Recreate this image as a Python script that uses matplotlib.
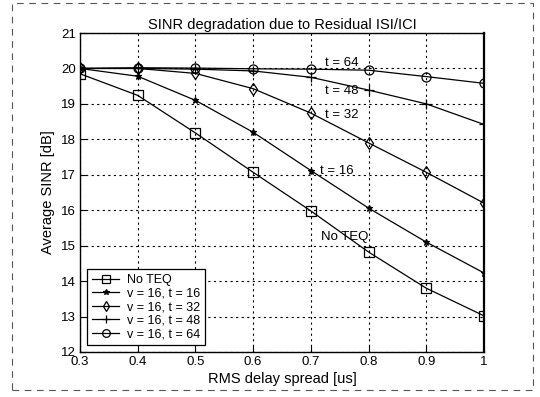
import matplotlib
matplotlib.use('Agg')
import matplotlib.pyplot as plt
from matplotlib.patches import Rectangle

plt.rcParams['font.family'] = ['Liberation Sans', 'DejaVu Sans']

delay = [0.3, 0.4, 0.5, 0.6, 0.7, 0.8, 0.9, 1.0]
no_teq = [19.85, 19.24, 18.18, 17.07, 15.98, 14.82, 13.8, 13.02]
t16 = [20.0, 19.78, 19.1, 18.2, 17.12, 16.06, 15.1, 14.23]
t32 = [20.0, 20.0, 19.86, 19.43, 18.74, 17.9, 17.07, 16.2]
t48 = [20.0, 20.0, 19.98, 19.93, 19.75, 19.39, 19.0, 18.42]
t64 = [20.0, 20.02, 20.01, 19.99, 19.98, 19.95, 19.77, 19.58]

series = [
    (no_teq, 's', 'No TEQ'),
    (t16, '*', 'v = 16, t = 16'),
    (t32, 'd', 'v = 16, t = 32'),
    (t48, '+', 'v = 16, t = 48'),
    (t64, 'o', 'v = 16, t = 64'),
]

labels = [(0.725, 20.15, 't = 64'), (0.725, 19.35, 't = 48'),
          (0.725, 18.7, 't = 32'), (0.715, 17.1, 't = 16'),
          (0.717, 15.24, 'No TEQ')]

fig = plt.figure(figsize=(5.4, 3.97), dpi=100)
ax = fig.add_axes([80/540, 1-352/397, 404/540, 319/397])

# dashed scan border round the figure
fig.patches.append(Rectangle((12/540, 7/397), 521/540, 387/397, transform=fig.transFigure,
                             fill=False, edgecolor='#555555', linestyle=(0, (6, 5)), lw=0.8))

for vals, mk, name in series:
    filled = mk in ('*', '+')
    ax.plot(delay, vals, color='black', lw=0.9, marker=mk, markersize=5 if mk == '*' else 6.5,
            markerfacecolor='black' if filled else 'none', markeredgecolor='black',
            markeredgewidth=0.9, label=name)

for x, y, s in labels:
    ax.text(x, y, s, fontsize=9.5, va='center', ha='left')

ax.set_xlim(0.3, 1.0)
ax.set_ylim(12, 21)
ax.set_xticks(delay)
ax.set_xticklabels(['0.3', '0.4', '0.5', '0.6', '0.7', '0.8', '0.9', '1'])
ax.set_yticks(range(12, 22))
ax.grid(True, color='black', linestyle=(0, (2, 3)), linewidth=0.8)
ax.tick_params(direction='in', labelsize=9.5, length=4, pad=3)
for sp in ax.spines.values():
    sp.set_linewidth(1.0)
ax.spines['right'].set_linewidth(1.6)

ax.set_title('SINR degradation due to Residual ISI/ICI', fontsize=10.5, pad=3)
ax.set_xlabel('RMS delay spread [us]', fontsize=10.5, labelpad=3)
ax.set_ylabel('Average SINR [dB]', fontsize=10.5, labelpad=4)

leg = ax.legend(loc='lower left', fontsize=9, frameon=True, fancybox=False,
                edgecolor='black', framealpha=1, borderaxespad=0.55,
                handlelength=2.2, handletextpad=0.6, labelspacing=0.12, borderpad=0.4,
                markerscale=0.85)
leg.get_frame().set_linewidth(0.9)

fig.savefig('out.png', dpi=100, facecolor='white')
